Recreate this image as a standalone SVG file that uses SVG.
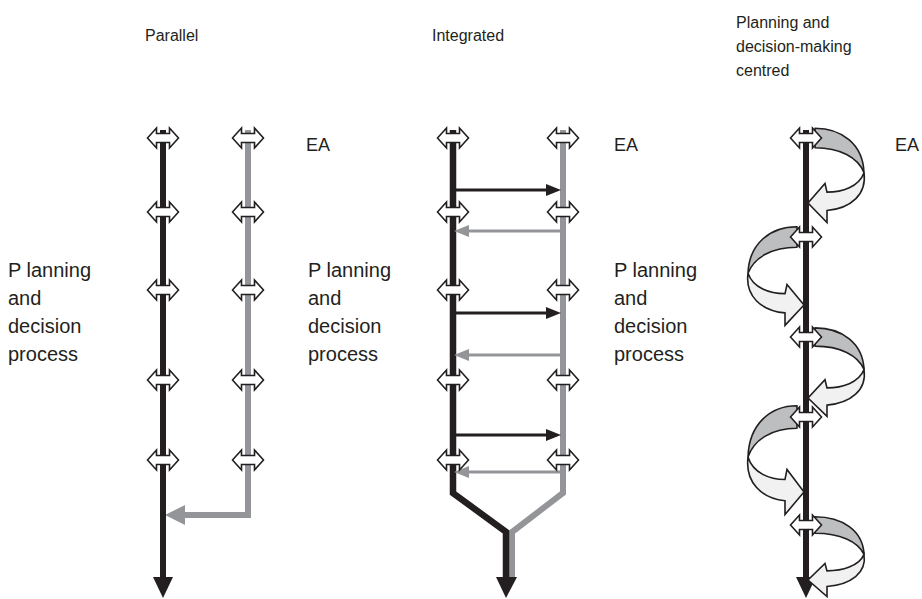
<svg xmlns="http://www.w3.org/2000/svg" width="922" height="599" viewBox="0 0 922 599">
  <style>
    .t { font-family: "Liberation Sans", Arial, sans-serif; fill: #231f20; }
    .title { font-size: 16px; }
    .lbl { font-size: 20px; }
    .ea { font-size: 18px; }
    .blk { stroke: #231f20; fill: none; }
    .gry { stroke: #939598; fill: none; }
    .mk { fill: #ffffff; stroke: #231f20; stroke-width: 1.6; stroke-linejoin: miter; }
    .back { fill: #bcbec0; stroke: #231f20; stroke-width: 1.6; stroke-linejoin: round; }
    .front { fill: #f1f1f2; stroke: #231f20; stroke-width: 1.6; stroke-linejoin: miter; }
  </style>
  <defs>
    <!-- two-headed connector marker -->
    <path id="dbl" d="M -15.5,0 L -6.5,-10 L -6.5,-4.5 L 6.5,-4.5 L 6.5,-10 L 15.5,0 L 6.5,10 L 6.5,4.5 L -6.5,4.5 L -6.5,10 Z"/>
    <!-- ribbon arrow, back half (behind the axis); drop height 60 -->
    <path id="swBack" vector-effect="non-scaling-stroke" d="M 9,-9 C 36,-9 57,6 58,32 C 52,18 34,9 9,9 Z"/>
    <!-- ribbon arrow, front half with its head -->
    <path id="swFront" vector-effect="non-scaling-stroke" d="M 58,32 C 61,52 45,65 21,67 L 21,78 L 2,60 L 19,42 L 21,50 C 36,50 53,45 58,32 Z"/>
  </defs>

  <!-- headings -->
  <g id="headings">
    <text class="t title" x="145" y="41">Parallel</text>
    <text class="t title" x="432" y="41">Integrated</text>
    <text class="t title" x="736" y="28">Planning and</text>
    <text class="t title" x="736" y="52">decision-making</text>
    <text class="t title" x="736" y="76">centred</text>
  </g>

  <!-- column 1: parallel -->
  <g id="parallel-connectors">
    <path class="gry" stroke-width="6" d="M 248,130 V 515 H 182"/>
    <polygon fill="#939598" points="165,515 185,505 185,525"/>
    <path class="blk" stroke-width="6" d="M 163,130 V 579"/>
    <polygon fill="#231f20" points="153,577 173,577 163,598"/>
  </g>
  <g id="parallel-planning">
    <use href="#dbl" class="mk" x="163" y="138"/>
    <use href="#dbl" class="mk" x="163" y="212"/>
    <use href="#dbl" class="mk" x="163" y="290"/>
    <use href="#dbl" class="mk" x="163" y="380"/>
    <use href="#dbl" class="mk" x="163" y="460"/>
  </g>
  <g id="parallel-ea">
    <use href="#dbl" class="mk" x="248" y="138"/>
    <use href="#dbl" class="mk" x="248" y="212"/>
    <use href="#dbl" class="mk" x="248" y="290"/>
    <use href="#dbl" class="mk" x="248" y="380"/>
    <use href="#dbl" class="mk" x="248" y="460"/>
  </g>
  <g id="parallel-labels">
    <text class="t lbl" x="8" y="277">P lanning</text>
    <text class="t lbl" x="8" y="305">and</text>
    <text class="t lbl" x="8" y="333">decision</text>
    <text class="t lbl" x="8" y="361">process</text>
    <text class="t ea" x="306" y="151">EA</text>
    <text class="t lbl" x="308" y="277">P lanning</text>
    <text class="t lbl" x="308" y="305">and</text>
    <text class="t lbl" x="308" y="333">decision</text>
    <text class="t lbl" x="308" y="361">process</text>
  </g>

  <!-- column 2: integrated -->
  <g id="integrated-connectors">
    <path class="gry" stroke-width="6" stroke-linejoin="miter" d="M 563,130 V 493 L 512,532 V 580"/>
    <path class="blk" stroke-width="6.5" stroke-linejoin="miter" d="M 453,130 V 493 L 506,532 V 579"/>
    <polygon fill="#231f20" points="496,577 517,577 506,598"/>
    <!-- exchanges between the two strands -->
    <path class="blk" stroke-width="3" d="M 456,190 H 548"/>
    <polygon fill="#231f20" points="561,190 546,184 546,196"/>
    <path class="blk" stroke-width="3" d="M 456,313 H 548"/>
    <polygon fill="#231f20" points="561,313 546,307 546,319"/>
    <path class="blk" stroke-width="3" d="M 456,435 H 548"/>
    <polygon fill="#231f20" points="561,435 546,429 546,441"/>
    <path class="gry" stroke-width="3" d="M 560,231 H 466"/>
    <polygon fill="#939598" points="454,231 469,225 469,237"/>
    <path class="gry" stroke-width="3" d="M 560,355 H 466"/>
    <polygon fill="#939598" points="454,355 469,349 469,361"/>
    <path class="gry" stroke-width="3" d="M 560,472 H 466"/>
    <polygon fill="#939598" points="454,472 469,466 469,478"/>
  </g>
  <g id="integrated-planning">
    <use href="#dbl" class="mk" x="453" y="138"/>
    <use href="#dbl" class="mk" x="453" y="212"/>
    <use href="#dbl" class="mk" x="453" y="290"/>
    <use href="#dbl" class="mk" x="453" y="380"/>
    <use href="#dbl" class="mk" x="453" y="460"/>
  </g>
  <g id="integrated-ea">
    <use href="#dbl" class="mk" x="563" y="138"/>
    <use href="#dbl" class="mk" x="563" y="212"/>
    <use href="#dbl" class="mk" x="563" y="290"/>
    <use href="#dbl" class="mk" x="563" y="380"/>
    <use href="#dbl" class="mk" x="563" y="460"/>
  </g>
  <g id="integrated-labels">
    <text class="t ea" x="614" y="151">EA</text>
    <text class="t lbl" x="614" y="277">P lanning</text>
    <text class="t lbl" x="614" y="305">and</text>
    <text class="t lbl" x="614" y="333">decision</text>
    <text class="t lbl" x="614" y="361">process</text>
  </g>

  <!-- column 3: planning and decision-making centred -->
  <g id="centred-ribbons-back">
    <use href="#swBack" class="back" transform="translate(806,138) scale(1,1.083)"/>
    <use href="#swBack" class="back" transform="translate(806,237) scale(-1,1.133)"/>
    <use href="#swBack" class="back" transform="translate(806,337) scale(1,1.017)"/>
    <use href="#swBack" class="back" transform="translate(806,417) scale(-1,1.25)"/>
    <use href="#swBack" class="back" transform="translate(806,525) scale(1,0.917)"/>
  </g>
  <g id="centred-axis">
    <path class="blk" stroke-width="6" d="M 806,130 V 579"/>
    <polygon fill="#231f20" points="796,577 816,577 806,598"/>
  </g>
  <g id="centred-ribbons-front">
    <use href="#swFront" class="front" transform="translate(806,138) scale(1,1.083)"/>
    <use href="#swFront" class="front" transform="translate(806,237) scale(-1,1.133)"/>
    <use href="#swFront" class="front" transform="translate(806,337) scale(1,1.017)"/>
    <use href="#swFront" class="front" transform="translate(806,417) scale(-1,1.25)"/>
    <use href="#swFront" class="front" transform="translate(806,525) scale(1,0.917)"/>
  </g>
  <g id="centred-markers">
    <use href="#dbl" class="mk" x="806" y="138"/>
    <use href="#dbl" class="mk" x="806" y="237"/>
    <use href="#dbl" class="mk" x="806" y="337"/>
    <use href="#dbl" class="mk" x="806" y="417"/>
    <use href="#dbl" class="mk" x="806" y="525"/>
  </g>
  <g id="centred-labels">
    <text class="t ea" x="895" y="151">EA</text>
  </g>
</svg>
